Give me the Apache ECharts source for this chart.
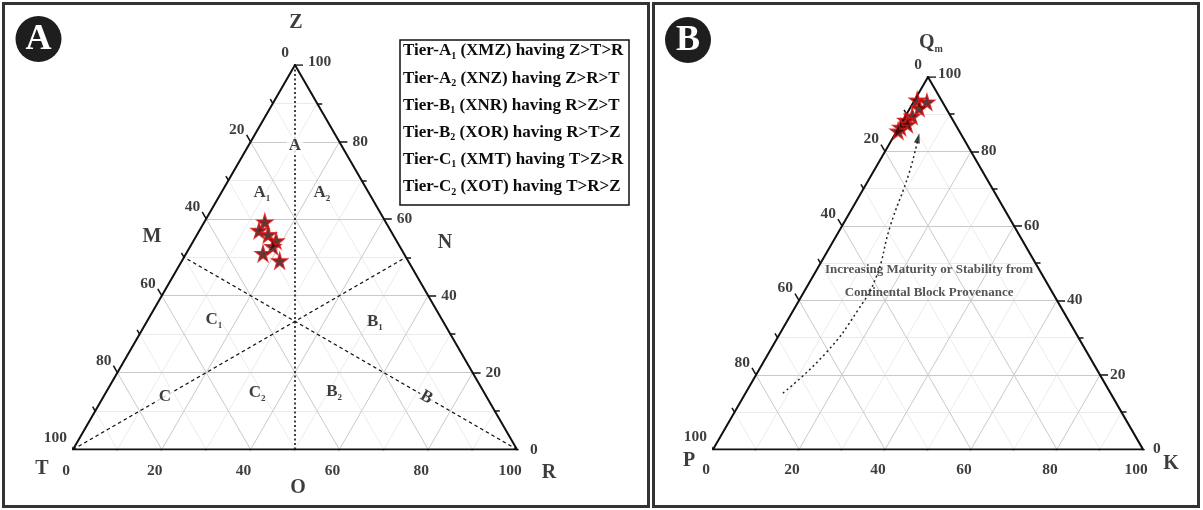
<!DOCTYPE html>
<html><head><meta charset="utf-8">
<script src="https://cdn.jsdelivr.net/npm/echarts@6/dist/echarts.min.js"></script>
<style>html,body{margin:0;padding:0;background:#fff}#c{width:1203px;height:510px}</style>
</head><body><div id="c"></div>
<script>
// ---------------- DATA ----------------
const tickValues = [0,10,20,30,40,50,60,70,80,90,100];
const tickLabelValues = [0,20,40,60,80,100];

// Panel A samples (T, R, Z in %)
const starsA_T = [27.2,29.6,28.1,27.1,28.6,31.7,28.9];
const starsA_R = [13.6,13.4,16.0,18.6,18.6,17.3,22.0];
const starsA_Z = [59.2,57.0,55.9,54.3,52.8,51.0,49.1];

// Panel B samples (P, K, Qm in %)
const starsB_P = [5.6,3.6,6.2,8.9,11.0,11.1,13.1,14.2];
const starsB_K = [0.6,3.1,2.1,1.6,0.6,1.6,0.4,0.3];
const starsB_Q = [93.8,93.3,91.7,89.5,88.4,87.3,86.5,85.5];

// Panel B maturity trend arrow (K, Qm)
const curveB_K = [8.7,13.3,15.0,14.8,11.3,8.5,5.9];
const curveB_Q = [15.1,25.9,37.4,46.3,59.7,74.2,83.6];

// Panel A region labels (name, subscript, Z, R)
const regionName = ['A','A','B','B','C','C'];
const regionSub  = ['1','2','1','2','1','2'];
const regionZ    = [66.7,66.7,33.2,15.0,33.7,14.7];
const regionR    = [9.2,22.7,51.4,51.3,14.9,34.1];

// Panel A tier line labels (name, Z, R)
const lineLabelName = ['A','B','C'];
const lineLabelZ = [79.0,13.6,13.8];
const lineLabelR = [10.5,72.8,13.8];

// Legend of panel A
const legendTier  = ['A','A','B','B','C','C'];
const legendSub   = ['1','2','1','2','1','2'];
const legendCode  = ['XMZ','XNZ','XNR','XOR','XMT','XOT'];
const legendOrder = ['Z>T>R','Z>R>T','R>Z>T','R>T>Z','T>Z>R','T>R>Z'];

// ---------------- HELPERS ----------------
const chart = echarts.init(document.getElementById('c'), null, {renderer:'canvas'});
const S = Math.sqrt(3)/2;
const FONT = '"Liberation Serif","Times New Roman",serif';
function tern(top, right){ return [right + top/2, top*S]; }

const panels = [
  {left:73, top:65, width:444},
  {left:713, top:77, width:430}
];
panels.forEach(p => { p.height = p.width*S; p.px = p.width/100; });

const grids = panels.map(p => ({left:p.left, top:p.top, width:p.width, height:p.height}));
const xAxes = panels.map((p,i) => ({gridIndex:i, type:'value', min:0, max:100, show:false}));
const yAxes = panels.map((p,i) => ({gridIndex:i, type:'value', min:0, max:100*S, show:false}));

const series = [];
const txtBase = {fontFamily:FONT, fontWeight:'bold', color:'#0d0d0d'};

function addLines(pi, data, style, z, polyline){
  series.push({type:'lines', coordinateSystem:'cartesian2d', xAxisIndex:pi, yAxisIndex:pi,
    polyline: !!polyline, silent:true, animation:false, z:z,
    data:data, lineStyle:Object.assign({opacity:1}, style)});
}
function addLabels(pi, items, z){
  series.push({type:'scatter', xAxisIndex:pi, yAxisIndex:pi, silent:true, animation:false, z:z||10,
    symbolSize:0.1, itemStyle:{color:'rgba(0,0,0,0)'},
    data: items.map(it => ({value:it.value, label:Object.assign({show:true, position:'inside', formatter:it.text}, txtBase, it.label)}))});
}

function buildFrame(pi, cfg){
  const p = panels[pi];
  const major=[], minor=[];
  for (let k=10;k<100;k+=10){
    const segs = [[tern(k,0),tern(k,100-k)], [tern(0,k),tern(100-k,k)], [tern(0,100-k),tern(100-k,0)]];
    segs.forEach(s => (k%20===0?major:minor).push({coords:s}));
  }
  addLines(pi, minor, {color:'#ebebeb', width:1}, 1);
  addLines(pi, major, {color:'#c9c9c9', width:1}, 2);
  addLines(pi, [{coords:[tern(0,0),tern(0,100),tern(100,0),tern(0,0)]}], {color:'#111', width:2}, 6, true);
  const ticks=[];
  tickValues.forEach(v => {
    const len = (v%20===0 ? 8 : 5)/p.px;
    let a = tern(0,v); ticks.push({coords:[a,[a[0]-0.5*len, a[1]-S*len]]});
    a = tern(v,100-v); ticks.push({coords:[a,[a[0]+len, a[1]]]});
    a = tern(100-v,0); ticks.push({coords:[a,[a[0]-0.5*len, a[1]+S*len]]});
  });
  addLines(pi, ticks, {color:'#111', width:1.5}, 6);
  const labs=[];
  tickLabelValues.forEach(v => {
    labs.push({value:tern(0,v), text:String(v), label:{fontSize:15.5, offset:[-7,21]}});
    labs.push({value:tern(v,100-v), text:String(v), label:{fontSize:15.5, align:'left', offset:[cfg.rightOff, v===100?-3:0]}});
    labs.push({value:tern(100-v,0), text:String(v), label:{fontSize:15.5, align:'right', offset:[-6,-12]}});
  });
  addLabels(pi, labs, 8);
}

// ---------------- PANEL A ----------------
buildFrame(0, {rightOff:13});
addLines(0, [{coords:[tern(100,0), tern(0,50)]}], {color:'#111', width:1.6, type:[2,2.5]}, 4);
addLines(0, [{coords:[tern(0,0), tern(50,50)]}, {coords:[tern(0,100), tern(50,0)]}], {color:'#111', width:1.4, type:[3.5,3]}, 4);
addLabels(0, [
  {value:tern(100,0), text:'Z', label:{fontSize:20, offset:[1,-42]}},
  {value:tern(0,0), text:'T', label:{fontSize:20, offset:[-31,19]}},
  {value:tern(0,100), text:'R', label:{fontSize:20, offset:[32,23]}},
  {value:tern(50,0), text:'M', label:{fontSize:20, offset:[-32,-20]}},
  {value:tern(50,50), text:'N', label:{fontSize:20, offset:[39,-14]}},
  {value:tern(0,50), text:'O', label:{fontSize:20, offset:[3,38]}}
]);
addLabels(0, regionName.map((n,i) => ({value:tern(regionZ[i], regionR[i]),
  text:'{m|'+n+'}{s|'+regionSub[i]+'}',
  label:{rich:{m:Object.assign({fontSize:17, lineHeight:20}, txtBase), s:Object.assign({fontSize:9, lineHeight:10, verticalAlign:'bottom'}, txtBase)}}})));
addLabels(0, lineLabelName.map((n,i) => ({value:tern(lineLabelZ[i], lineLabelR[i]), text:n,
  label:{fontSize:17, backgroundColor:'#fff', padding:[1,2], rotate: n==='B'?-30:0}})), 9);
const STAR = 'path://M50,0 L61,35 L98,35 L68,57 L79,91 L50,70 L21,91 L32,57 L2,35 L39,35 Z';
series.push({type:'scatter', xAxisIndex:0, yAxisIndex:0, symbol:STAR, symbolSize:16, z:20, silent:true, animation:false,
  itemStyle:{color:'#3a0404', borderColor:'#e01515', borderWidth:1.3},
  data: starsA_Z.map((z,i) => tern(z, starsA_R[i]))});

// ---------------- PANEL B ----------------
buildFrame(1, {rightOff:10});
addLabels(1, [
  {value:tern(100,0), text:'{m|Q}{s|m}', label:{offset:[3,-34], rich:{m:Object.assign({fontSize:20, lineHeight:22}, txtBase), s:Object.assign({fontSize:10, lineHeight:11, verticalAlign:'bottom'}, txtBase)}}},
  {value:tern(0,0), text:'P', label:{fontSize:20, offset:[-24,11]}},
  {value:tern(0,100), text:'K', label:{fontSize:20, offset:[28,14]}}
]);
const curvePts = curveB_Q.map((q,i) => tern(q, curveB_K[i]));
series.push({type:'line', xAxisIndex:1, yAxisIndex:1, smooth:0.5, symbol:'none', z:5, silent:true, animation:false,
  lineStyle:{color:'#222', width:1.5, type:[2,3]}, data:curvePts});
const n = curvePts.length, tip = curvePts[n-1], prev = curvePts[n-2];
const ang = Math.atan2(tip[1]-prev[1], tip[0]-prev[0]) * 180/Math.PI;
series.push({type:'scatter', xAxisIndex:1, yAxisIndex:1, symbol:'triangle', symbolSize:[6,10], symbolRotate: ang-90, z:6, silent:true, animation:false,
  itemStyle:{color:'#111'}, data:[tip]});
addLabels(1, [{value:tern(45.1, 27.7), text:'Increasing Maturity or Stability from\nContinental Block Provenance', label:{fontSize:13, lineHeight:23, color:'#2a2a2a'}}]);
series.push({type:'scatter', xAxisIndex:1, yAxisIndex:1, symbol:STAR, symbolSize:16, z:20, silent:true, animation:false,
  itemStyle:{color:'#3a0404', borderColor:'#e01515', borderWidth:1.3},
  data: starsB_Q.map((q,i) => tern(q, starsB_K[i]))});

// ---------------- GRAPHICS ----------------
const legendChildren = [{type:'rect', shape:{x:400, y:40, width:229, height:165}, style:{fill:'#fff', stroke:'#111', lineWidth:1.5}}];
legendTier.forEach((t,i) => {
  legendChildren.push({type:'text', x:403, y:51+27.2*i, style:{
    text:'{m|Tier-'+t+'}{s|'+legendSub[i]+'}{m| ('+legendCode[i]+') having '+legendOrder[i]+'}',
    verticalAlign:'middle', align:'left',
    rich:{m:{fontFamily:FONT, fontWeight:'bold', fontSize:17, lineHeight:20, fill:'#0d0d0d'},
          s:{fontFamily:FONT, fontWeight:'bold', fontSize:10, lineHeight:10, verticalAlign:'bottom', fill:'#0d0d0d'}}}});
});
function badge(cx, cy, letter){
  return {type:'group', children:[
    {type:'circle', shape:{cx:cx, cy:cy, r:23}, style:{fill:'#1e1e1e'}},
    {type:'text', x:cx, y:cy+1, style:{text:letter, fontFamily:FONT, fontWeight:'bold', fontSize:36, fill:'#fff', align:'center', verticalAlign:'middle'}}
  ]};
}

chart.setOption({
  animation:false,
  grid:grids, xAxis:xAxes, yAxis:yAxes, series:series,
  graphic:[
    {type:'rect', shape:{x:3.5, y:3.5, width:645, height:503}, style:{fill:null, stroke:'#333', lineWidth:3}, z:-1},
    {type:'rect', shape:{x:653.5, y:3.5, width:545, height:503}, style:{fill:null, stroke:'#333', lineWidth:3}, z:-1},
    badge(38.5, 39, 'A'),
    badge(688, 40, 'B'),
    {type:'group', children:legendChildren}
  ]
});
</script></body></html>
